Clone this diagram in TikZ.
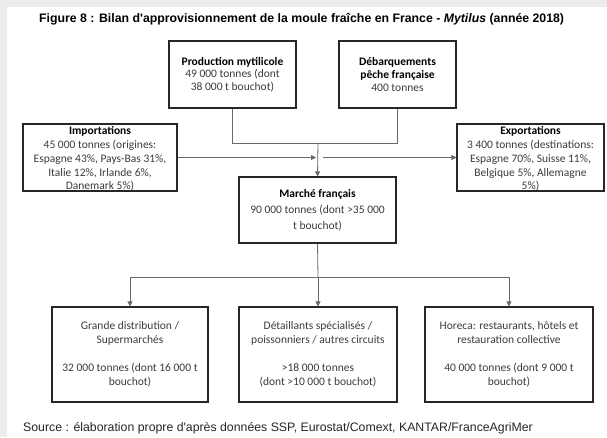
\documentclass[tikz,border=0pt]{standalone}
\usepackage{fontspec}
\setmainfont{Carlito}
\newfontfamily\arialfont{Liberation Sans}
\usetikzlibrary{arrows.meta}
\definecolor{boxtext}{RGB}{60,60,60}
\definecolor{linegray}{RGB}{105,105,105}
\definecolor{pagegray}{RGB}{236,236,236}

\tikzset{
    box/.style={draw=black!85, line width=1.1pt, fill=white, align=center, inner sep=2pt,
        text=boxtext, font=\fontsize{11.5}{12.7}\selectfont},
    toplbl/.style={anchor=north, align=center, inner sep=3pt, text=boxtext,
        font=\fontsize{11.5}{13.8}\selectfont},
    link/.style={draw=linegray, line width=0.8pt},
    arr/.style={link, -{Triangle[length=5pt,width=5pt]}}
}

\begin{document}
\begin{tikzpicture}[x=1pt, y=-1pt]
    \useasboundingbox (0,0) rectangle (607,437);
    % Page edges
    \fill[pagegray] (0,0) rectangle (7,437);
    \fill[pagegray] (0,0) rectangle (607,7);
    % Title
    \node[anchor=base west, inner sep=0pt, font=\arialfont\bfseries\fontsize{12.3}{14}\selectfont] (title) at (39,22)
        {Figure 8 : Bilan d'approvisionnement de la moule fraîche en France - \textit{Mytilus} (année 2018)};
    % Supply boxes
    \node[box, minimum width=127pt, minimum height=67pt] (prod) at (232.5,74.5)
        {\textcolor{black}{\textbf{Production mytilicole}}\\49~000 tonnes (dont\\38~000 t bouchot)};
    \node[box, minimum width=117pt, minimum height=67pt] (deb) at (397.5,74.5)
        {\textcolor{black}{\textbf{Débarquements}}\\\textcolor{black}{\textbf{pêche française}}\\400 tonnes};
    % Trade boxes (text from the top)
    \node[box, minimum width=154pt, minimum height=67pt,
        label={[toplbl]north:{\textcolor{black}{\textbf{Importations}}\\45~000 tonnes (origines:\\Espagne 43\%, Pays-Bas 31\%,\\Italie 12\%, Irlande 6\%,\\Danemark 5\%)}}] (imp) at (100,157.5) {};
    \node[box, minimum width=147pt, minimum height=67pt,
        label={[toplbl]north:{\textcolor{black}{\textbf{Exportations}}\\3~400 tonnes (destinations:\\Espagne 70\%, Suisse 11\%,\\Belgique 5\%, Allemagne\\5\%)}}] (exp) at (530.5,157.5) {};
    % Market
    \node[box, minimum width=157pt, minimum height=66pt, font=\fontsize{11.5}{16}\selectfont] (marche) at (317.5,210)
        {\textcolor{black}{\textbf{Marché français}}\\90~000 tonnes (dont >35~000\\t bouchot)};
    % Outlets
    \node[box, minimum width=156pt, minimum height=95pt, font=\fontsize{11.5}{14}\selectfont] (gd) at (130,354.5)
        {Grande distribution /\\Supermarchés\\[14pt]32~000 tonnes (dont 16~000 t\\bouchot)};
    \node[box, minimum width=158pt, minimum height=95pt, font=\fontsize{11.5}{14}\selectfont] (det) at (318,354.5)
        {Détaillants spécialisés /\\poissonniers / autres circuits\\[14pt]>18~000 tonnes\\(dont >10~000 t bouchot)};
    \node[box, minimum width=168pt, minimum height=95pt, font=\fontsize{11.5}{14}\selectfont] (hor) at (509,354.5)
        {Horeca: restaurants, hôtels et\\restauration collective\\[14pt]40~000 tonnes (dont 9~000 t\\bouchot)};
    % Junctions
    \coordinate (jtop) at (318,143);
    \coordinate (impend) at (316,157.5);
    \coordinate (expstart) at (323,157.5);
    \coordinate (jbot) at (318,277);
    % Flows into the market
    \draw[link] (prod.south) |- (jtop);
    \draw[link] (deb.south) |- (jtop);
    \draw[arr] (jtop) -- (marche.north);
    \draw[arr] (imp.east) -- (impend);
    \draw[arr] (expstart) -- (exp.west);
    % Flows to the outlets
    \draw[link] (marche.south) -- (jbot);
    \draw[arr] (jbot) -| (gd.north);
    \draw[arr] (jbot) -- (det.north);
    \draw[arr] (jbot) -| (hor.north);
    % Source
    \node[anchor=base west, inner sep=0pt, text=black!85, font=\arialfont\fontsize{12.3}{14}\selectfont] (src) at (23,431)
        {Source : élaboration propre d'après données SSP, Eurostat/Comext, KANTAR/FranceAgriMer};
\end{tikzpicture}
\end{document}
